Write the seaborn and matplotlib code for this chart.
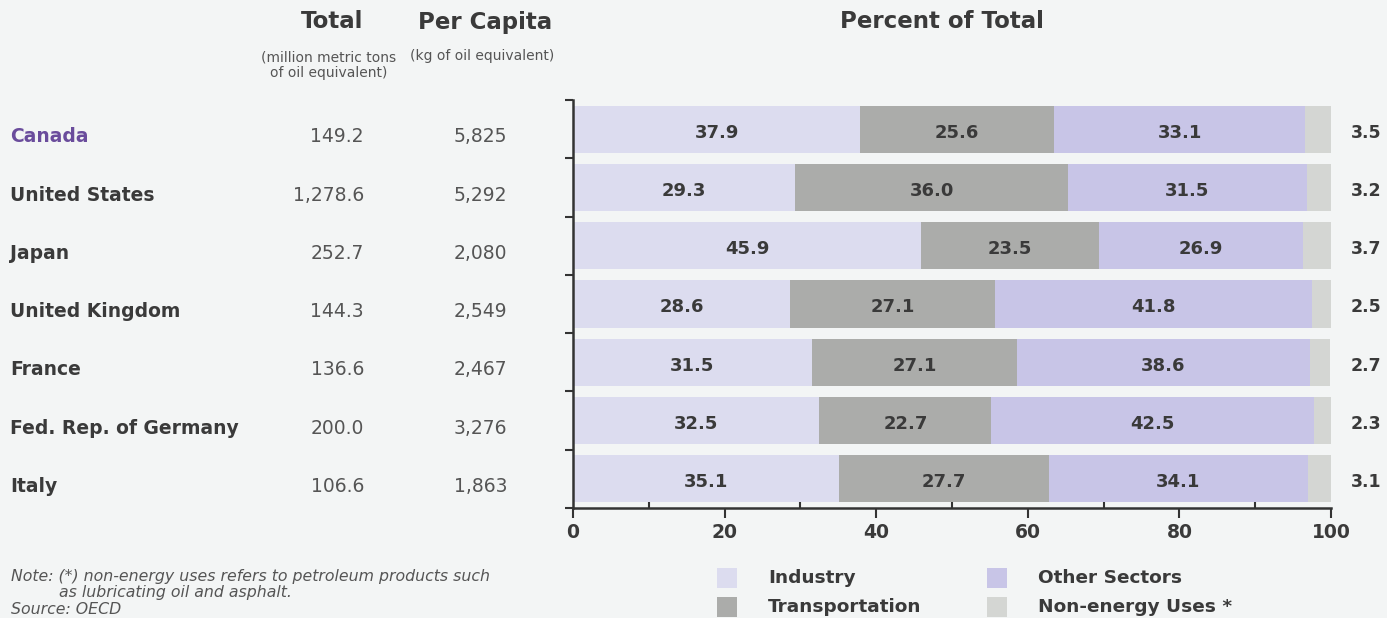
import numpy as np
import pandas as pd
import matplotlib
matplotlib.use("Agg")
import matplotlib.pyplot as plt
import seaborn as sns

# ---- data ----
countries = ["Canada", "United States", "Japan", "United Kingdom",
             "France", "Fed. Rep. of Germany", "Italy"]
total = ["149.2", "1,278.6", "252.7", "144.3", "136.6", "200.0", "106.6"]
per_capita = ["5,825", "5,292", "2,080", "2,549", "2,467", "3,276", "1,863"]

industry = [37.9, 29.3, 45.9, 28.6, 31.5, 32.5, 35.1]
transportation = [25.6, 36.0, 23.5, 27.1, 27.1, 22.7, 27.7]
other_sectors = [33.1, 31.5, 26.9, 41.8, 38.6, 42.5, 34.1]
non_energy = [3.5, 3.2, 3.7, 2.5, 2.7, 2.3, 3.1]

sectors = ["Industry", "Transportation", "Other Sectors", "Non-energy Uses *"]
colors = ["#dcdcef", "#abacaa", "#c8c5e7", "#d4d6d3"]

BG = "#f3f5f5"
TXT = "#3a3a3a"
GREY = "#555555"

sns.set_style("white")
plt.rcParams["font.family"] = ["DejaVu Sans"]

df = pd.DataFrame({"country": countries, "Industry": industry,
                   "Transportation": transportation,
                   "Other Sectors": other_sectors,
                   "Non-energy Uses *": non_energy})
cum = df[sectors].cumsum(axis=1)

W, H = 1387, 618
fig = plt.figure(figsize=(W / 100, H / 100), dpi=100, facecolor=BG)
ax = fig.add_axes([573 / W, 1 - 508 / H, (1331 - 573) / W, (508 - 100) / H])
ax.set_facecolor(BG)

# stacked bars: draw cumulative totals from the longest down
for sec, col in reversed(list(zip(sectors, colors))):
    sns.barplot(x=cum[sec], y=df["country"], orient="h", color=col,
                width=0.81, saturation=1, ax=ax, linewidth=0)

# labels inside the first three segments, last one outside on the right
for i in range(len(countries)):
    left = 0
    for sec in sectors[:3]:
        v = df[sec][i]
        ax.text(left + v / 2, i + 0.06, f"{v:.1f}", ha="center", va="center",
                fontsize=13, fontweight="bold", color=TXT)
        left += v
    ax.text(104.6, i + 0.06, f"{non_energy[i]:.1f}", ha="center", va="center",
            fontsize=12.5, fontweight="bold", color=TXT, clip_on=False)

ax.set_xlim(0, 100)
ax.set_ylim(6.5, -0.5)
ax.set_xlabel("")
ax.set_ylabel("")
sns.despine(ax=ax)
for s in ["left", "bottom"]:
    ax.spines[s].set_color("#333333")
    ax.spines[s].set_linewidth(1.8)

ax.set_yticks(np.arange(-0.5, 7, 1))
ax.set_yticklabels([])
ax.tick_params(axis="y", which="major", direction="out", length=6, width=1.5,
               color="#333333", left=True)
ax.set_xticks(np.arange(0, 101, 20))
ax.set_xticks(np.arange(10, 100, 20), minor=True)
ax.tick_params(axis="x", which="major", direction="out", length=7, width=1.5,
               color="#333333", bottom=True, labelsize=13.5, labelcolor=TXT, pad=4)
ax.tick_params(axis="x", which="minor", direction="in", length=4, width=1.5,
               color="#333333", bottom=True)
for lab in ax.get_xticklabels():
    lab.set_fontweight("bold")

# left-hand table, aligned with the bar rows
tr = matplotlib.transforms.blended_transform_factory(fig.transFigure, ax.transData)
for i, name in enumerate(countries):
    ax.text(10 / W, i + 0.13, name, transform=tr, ha="left", va="center",
            fontsize=13.5, fontweight="bold",
            color="#6a4c9c" if i == 0 else TXT)
    ax.text(364 / W, i + 0.13, total[i], transform=tr, ha="right",
            va="center", fontsize=13.5, color=GREY)
    ax.text(507 / W, i + 0.13, per_capita[i], transform=tr, ha="right",
            va="center", fontsize=13.5, color=GREY)

# column headers
fig.text(332 / W, 1 - 22 / H, "Total", ha="center", va="center",
         fontsize=16.5, fontweight="bold", color=TXT)
fig.text(485 / W, 1 - 22 / H, "Per Capita", ha="center", va="center",
         fontsize=16.5, fontweight="bold", color=TXT)
fig.text(329 / W, 1 - 65 / H, "(million metric tons\nof oil equivalent)",
         ha="center", va="center", fontsize=10, color=GREY, linespacing=1.1)
fig.text(482 / W, 1 - 56 / H, "(kg of oil equivalent)", ha="center",
         va="center", fontsize=10, color=GREY)
fig.text(942 / W, 1 - 22 / H, "Percent of Total", ha="center",
         va="center", fontsize=16.5, fontweight="bold", color=TXT)

# legend
leg_pos = [(727, 578), (727, 607), (997, 578), (997, 607)]
for (x, y), sec, col in zip(leg_pos, sectors, colors):
    fig.patches.append(matplotlib.patches.Rectangle(
        ((x - 10) / W, 1 - (y + 10) / H), 20 / W, 20 / H,
        transform=fig.transFigure, facecolor=col, edgecolor="none"))
    fig.text((x + 41) / W, 1 - y / H, sec, ha="left", va="center",
             fontsize=13.3, fontweight="bold", color=TXT)

# notes
fig.text(11 / W, 1 - 576 / H,
         "Note: (*) non-energy uses refers to petroleum products such",
         ha="left", va="center", fontsize=11.3, style="italic", color=GREY)
fig.text(59 / W, 1 - 593 / H, "as lubricating oil and asphalt.",
         ha="left", va="center", fontsize=11.3, style="italic", color=GREY)
fig.text(11 / W, 1 - 609 / H, "Source: OECD", ha="left", va="center",
         fontsize=11.3, style="italic", color=GREY)

fig.savefig("out.png", dpi=100, facecolor=BG)
